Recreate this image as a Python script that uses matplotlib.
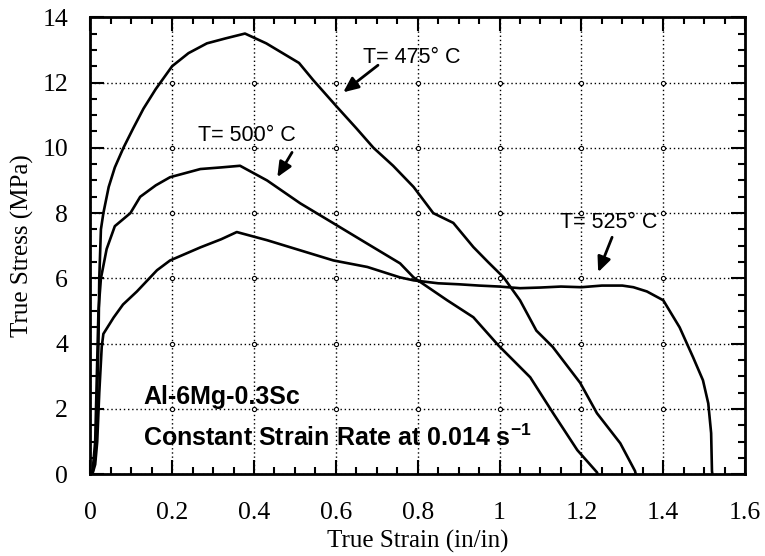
import matplotlib
import numpy as np

matplotlib.use("Agg")
import matplotlib.pyplot as plt
from matplotlib.ticker import MultipleLocator

plt.rcParams["mathtext.fontset"] = "custom"
plt.rcParams["mathtext.rm"] = "Liberation Sans"
plt.rcParams["mathtext.bf"] = "Liberation Sans:bold"

eps_475 = [0.005, 0.012, 0.016, 0.02, 0.022, 0.026, 0.032, 0.045, 0.06, 0.081, 0.105, 0.13,
           0.16, 0.2, 0.24, 0.285, 0.33, 0.378, 0.43, 0.51, 0.545, 0.603, 0.65, 0.692, 0.74,
           0.79, 0.838, 0.887, 0.936, 0.972, 1.01, 1.05, 1.09, 1.13, 1.197, 1.238, 1.295,
           1.331, 1.333]
sig_475 = [0.0, 0.5, 2.0, 4.0, 6.0, 7.5, 8.0, 8.8, 9.4, 10.0, 10.6, 11.2,
           11.8, 12.5, 12.9, 13.2, 13.35, 13.5, 13.2, 12.6, 12.07, 11.25, 10.6, 10.0, 9.45,
           8.8, 8.0, 7.7, 6.96, 6.5, 6.03, 5.33, 4.4, 3.9, 2.8, 1.87, 0.95,
           0.1, 0.0]

eps_500 = [0.005, 0.012, 0.016, 0.02, 0.026, 0.04, 0.06, 0.098, 0.122, 0.16, 0.195, 0.269,
           0.32, 0.366, 0.432, 0.513, 0.594, 0.676, 0.757, 0.79, 0.872, 0.936, 0.997, 1.075,
           1.131, 1.19, 1.238, 1.24]
sig_500 = [0.0, 1.0, 3.0, 5.0, 6.0, 6.9, 7.6, 8.0, 8.5, 8.85, 9.1, 9.35,
           9.4, 9.45, 9.0, 8.3, 7.69, 7.07, 6.46, 6.03, 5.33, 4.81, 3.95, 2.97,
           1.87, 0.74, 0.06, 0.0]

eps_525 = [0.005, 0.012, 0.017, 0.022, 0.028, 0.032, 0.057, 0.08, 0.114, 0.163, 0.195, 0.269,
           0.32, 0.358, 0.432, 0.513, 0.594, 0.677, 0.757, 0.79, 0.85, 0.9, 0.95, 1.0,
           1.05, 1.1, 1.15, 1.2, 1.25, 1.3, 1.327, 1.36, 1.4, 1.44, 1.473, 1.497,
           1.51, 1.517, 1.519, 1.52]
sig_525 = [0.0, 0.3, 1.0, 2.5, 3.9, 4.3, 4.8, 5.2, 5.6, 6.25, 6.55, 6.95,
           7.2, 7.42, 7.17, 6.86, 6.55, 6.35, 6.03, 5.94, 5.85, 5.82, 5.78, 5.75,
           5.7, 5.72, 5.75, 5.73, 5.78, 5.78, 5.73, 5.6, 5.33, 4.5, 3.58, 2.88,
           2.17, 1.26, 0.1, 0.0]

x_ticks = [0, 0.2, 0.4, 0.6, 0.8, 1.0, 1.2, 1.4, 1.6]
x_tick_labels = ["0", "0.2", "0.4", "0.6", "0.8", "1", "1.2", "1.4", "1.6"]
y_ticks = [0, 2, 4, 6, 8, 10, 12, 14]

serif = ["Liberation Serif", "DejaVu Serif"]
sans = ["Liberation Sans", "DejaVu Sans"]

fig = plt.figure(figsize=(7.65, 5.56), dpi=100)
ax = fig.add_axes([0.118, 0.147, 0.856, 0.822])

for eps, sig in [(eps_475, sig_475), (eps_500, sig_500), (eps_525, sig_525)]:
    ax.plot(eps, sig, color="black", linewidth=1.9, zorder=3)

# kleine Kreise an den Gitterkreuzungen
gx, gy = np.meshgrid(x_ticks[1:-1], y_ticks[1:-1])
ax.plot(gx.ravel(), gy.ravel(), linestyle="none", marker="o", markersize=3,
        markerfacecolor="white", markeredgecolor="black", markeredgewidth=0.8, zorder=2)

ax.set_xlim(0, 1.6)
ax.set_ylim(0, 14)
ax.set_xticks(x_ticks)
ax.set_xticklabels(x_tick_labels)
ax.set_yticks(y_ticks)
ax.xaxis.set_minor_locator(MultipleLocator(0.05))
ax.yaxis.set_minor_locator(MultipleLocator(0.5))
ax.tick_params(which="both", direction="in", top=True, right=True, width=1.5, colors="black")
ax.tick_params(which="major", length=10, labelsize=18.5)
ax.tick_params(axis="x", which="major", pad=20)
ax.tick_params(axis="y", which="major", pad=16)
ax.tick_params(which="minor", length=5)
for lab in ax.get_xticklabels() + ax.get_yticklabels():
    lab.set_family(serif)
for sp in ax.spines.values():
    sp.set_linewidth(2)

ax.grid(True, which="major", linestyle=(0, (1, 2)), color="black", linewidth=1.0)

ax.set_xlabel("True Strain (in/in)", family=serif, fontsize=18, labelpad=4)
ax.set_ylabel("True Stress (MPa)", family=serif, fontsize=18, labelpad=6)

pfeil = dict(arrowstyle="-|>,head_length=0.9,head_width=0.4", color="black", lw=2.0,
             shrinkA=0, shrinkB=0)
ax.annotate("", xy=(0.618, 11.7), xytext=(0.703, 12.53), arrowprops=pfeil)
ax.annotate("", xy=(0.457, 9.1), xytext=(0.493, 9.86), arrowprops=pfeil)
ax.annotate("", xy=(1.241, 6.19), xytext=(1.275, 7.26), arrowprops=pfeil)
ax.text(0.667, 12.77, "T= 475° C", family=sans, fontsize=15.5, va="center")
ax.text(0.264, 10.38, "T= 500° C", family=sans, fontsize=15.5, va="center")
ax.text(1.148, 7.72, "T= 525° C", family=sans, fontsize=15.5, va="center")

ax.text(0.13, 2.36, "Al-6Mg-0.3Sc", family=sans, fontsize=18, fontweight="bold", va="center")
ax.text(0.13, 1.13, r"Constant Strain Rate at 0.014 s$^{\mathbf{-1}}$", family=sans, fontsize=18,
        fontweight="bold", va="center")

fig.savefig("out.png", dpi=100)
